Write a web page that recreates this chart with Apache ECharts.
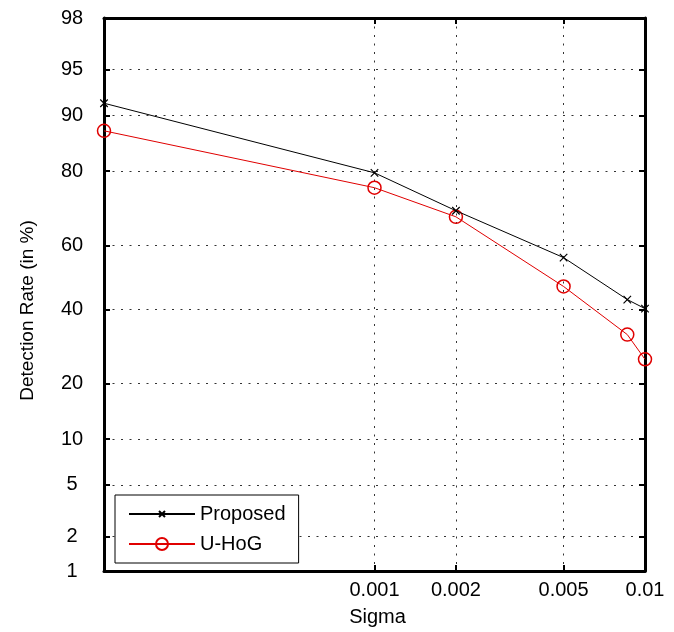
<!DOCTYPE html>
<html>
<head>
<meta charset="utf-8">
<script src="https://cdn.jsdelivr.net/npm/echarts@6/dist/echarts.min.js"></script>
<style>
  html, body { margin: 0; padding: 0; background: #fff; }
  #main { width: 674px; height: 632px; }
</style>
</head>
<body>
<div id="main"></div>
<script>
// sigma values (x, log scale) and detection rates in % (y, normal-probability scale)
var sigmaVals = [0.0001, 0.001, 0.002, 0.005, 0.0086, 0.01];
var proposedRate = [91.6, 79.6, 70.1, 56.2, 43.0, 40.2];
var uhogRate = [87.7, 76.1, 68.4, 47.1, 32.5, 25.8];

var xTicks = [0.001, 0.002, 0.005, 0.01];
var xTickLabels = ['0.001', '0.002', '0.005', '0.01'];
var yTicks = [1, 2, 5, 10, 20, 40, 60, 80, 90, 95, 98];

// inverse normal CDF (Acklam) -> probit scale for the y axis
function probit(p) {
  var a = [-3.969683028665376e+01, 2.209460984245205e+02, -2.759285104469687e+02, 1.383577518672690e+02, -3.066479806614716e+01, 2.506628277459239e+00];
  var b = [-5.447609879822406e+01, 1.615858368580409e+02, -1.556989798598866e+02, 6.680131188771972e+01, -1.328068155288572e+01];
  var c = [-7.784894002430293e-03, -3.223964580411365e-01, -2.400758277161838e+00, -2.549732539343734e+00, 4.374664141464968e+00, 2.938163982698783e+00];
  var d = [7.784695709041462e-03, 3.224671290700398e-01, 2.445134137142996e+00, 3.754408661907416e+00];
  var pl = 0.02425, q, r;
  if (p < pl) {
    q = Math.sqrt(-2 * Math.log(p));
    return (((((c[0]*q+c[1])*q+c[2])*q+c[3])*q+c[4])*q+c[5]) / ((((d[0]*q+d[1])*q+d[2])*q+d[3])*q+1);
  }
  if (p <= 1 - pl) {
    q = p - 0.5; r = q * q;
    return (((((a[0]*r+a[1])*r+a[2])*r+a[3])*r+a[4])*r+a[5])*q / (((((b[0]*r+b[1])*r+b[2])*r+b[3])*r+b[4])*r+1);
  }
  q = Math.sqrt(-2 * Math.log(1 - p));
  return -(((((c[0]*q+c[1])*q+c[2])*q+c[3])*q+c[4])*q+c[5]) / ((((d[0]*q+d[1])*q+d[2])*q+d[3])*q+1);
}
function pz(pct) { return probit(pct / 100); }

var yTickZ = yTicks.map(pz);
function yLabel(v) {
  var best = 0;
  for (var i = 1; i < yTickZ.length; i++) {
    if (Math.abs(yTickZ[i] - v) < Math.abs(yTickZ[best] - v)) best = i;
  }
  return String(yTicks[best]);
}
function xLabel(v) {
  for (var i = 0; i < xTicks.length; i++) {
    if (Math.abs(Math.log10(xTicks[i]) - Math.log10(v)) < 0.01) return xTickLabels[i];
  }
  return '';
}
function pairs(xs, ys) {
  return xs.map(function (x, i) { return [x, pz(ys[i])]; });
}

var FONT = '"Liberation Sans", Arial, sans-serif';
var FS = 20;
var frameLine = { show: true, onZero: false, lineStyle: { color: '#000', width: 3 } };
var gridDots = { show: true, lineStyle: { color: '#333', width: 1, type: [2, 6.5] } };

var chart = echarts.init(document.getElementById('main'));
var option = {
  backgroundColor: '#fff',
  animation: false,
  grid: { left: 104, right: 29, top: 18, bottom: 60 },
  legend: {
    orient: 'vertical',
    left: 115,
    top: 495,
    padding: [9, 13, 9, 13],
    itemGap: 10,
    itemWidth: 66,
    itemHeight: 15,
    backgroundColor: '#fff',
    borderColor: '#000',
    borderWidth: 1,
    borderRadius: 0,
    textStyle: { fontFamily: FONT, fontSize: FS, color: '#000' },
    data: ['Proposed', 'U-HoG']
  },
  xAxis: [{
    type: 'log',
    logBase: 10,
    min: 0.0001,
    max: 0.01,
    name: 'Sigma',
    nameLocation: 'middle',
    nameGap: 36,
    nameTextStyle: { fontFamily: FONT, fontSize: FS, color: '#000', padding: [0, 0, 0, 6] },
    axisLine: frameLine,
    axisTick: { show: true, inside: true, length: 6, customValues: xTicks, lineStyle: { color: '#000', width: 2 } },
    axisLabel: { customValues: xTicks, formatter: xLabel, margin: 9, fontFamily: FONT, fontSize: FS, color: '#000' },
    splitLine: gridDots
  }, {
    type: 'log',
    logBase: 10,
    min: 0.0001,
    max: 0.01,
    position: 'top',
    axisLine: frameLine,
    axisTick: { show: true, inside: true, length: 6, customValues: xTicks, lineStyle: { color: '#000', width: 2 } },
    axisLabel: { show: false },
    splitLine: { show: false }
  }],
  yAxis: [{
    type: 'value',
    min: pz(1),
    max: pz(98),
    name: 'Detection Rate (in %)',
    nameLocation: 'middle',
    nameGap: 67,
    nameTextStyle: { fontFamily: FONT, fontSize: 19, color: '#000', padding: [0, 32, 0, 0] },
    axisLine: frameLine,
    axisTick: { show: true, inside: true, length: 6, customValues: yTickZ, lineStyle: { color: '#000', width: 2 } },
    axisLabel: { customValues: yTickZ, formatter: yLabel, align: 'center', margin: 32, fontFamily: FONT, fontSize: FS, color: '#000' },
    splitLine: gridDots
  }, {
    type: 'value',
    min: pz(1),
    max: pz(98),
    position: 'right',
    axisLine: frameLine,
    axisTick: { show: true, inside: true, length: 6, customValues: yTickZ, lineStyle: { color: '#000', width: 2 } },
    axisLabel: { show: false },
    splitLine: { show: false }
  }],
  series: [{
    name: 'Proposed',
    type: 'line',
    data: pairs(sigmaVals, proposedRate),
    symbol: 'path://M-5,-5M0,0L10,10M10,0L0,10M15,15',
    symbolSize: 15,
    showAllSymbol: true,
    lineStyle: { color: '#000', width: 1 },
    itemStyle: { color: '#000', borderColor: '#000', borderWidth: 1.2 },
    z: 3
  }, {
    name: 'U-HoG',
    type: 'line',
    data: pairs(sigmaVals, uhogRate),
    symbol: 'circle',
    symbolSize: 13,
    showAllSymbol: true,
    lineStyle: { color: '#e00000', width: 1 },
    itemStyle: { color: 'rgba(0,0,0,0)', borderColor: '#e00000', borderWidth: 1.5 },
    z: 2
  }]
};
chart.setOption(option);
</script>
</body>
</html>
